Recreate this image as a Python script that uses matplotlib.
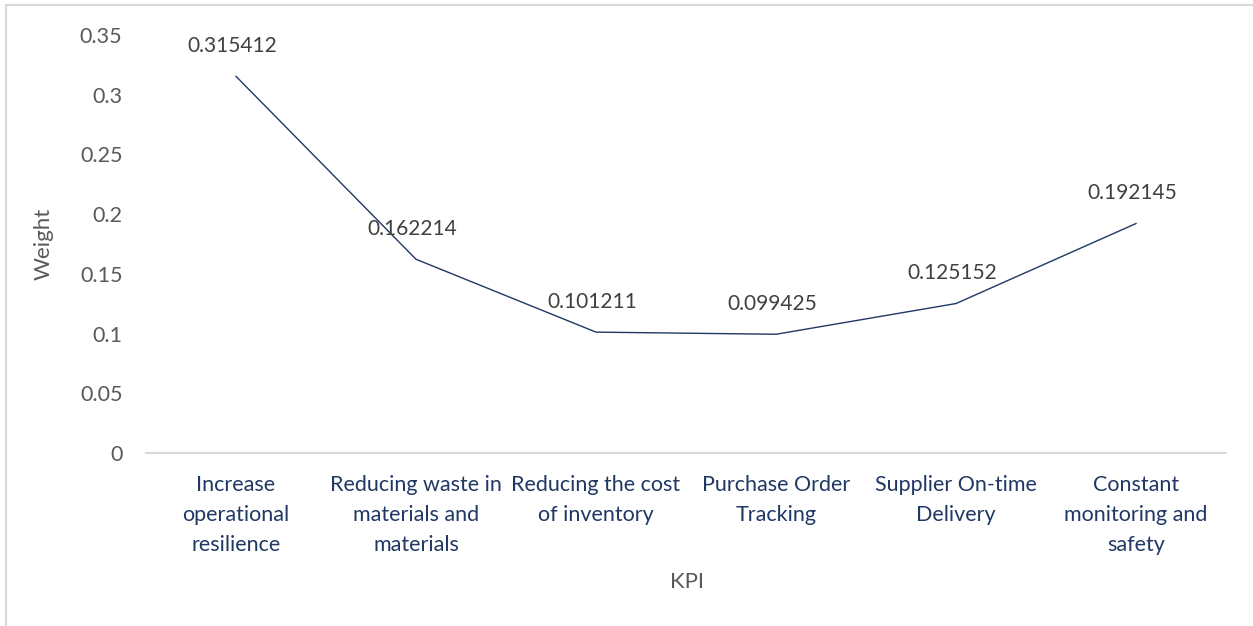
import matplotlib.pyplot as plt
from matplotlib.patches import Rectangle

# KPI weights
kpis = ["Increase\noperational\nresilience",
        "Reducing waste in\nmaterials and\nmaterials",
        "Reducing the cost\nof inventory",
        "Purchase Order\nTracking",
        "Supplier On-time\nDelivery",
        "Constant\nmonitoring and\nsafety"]
weights = [0.315412, 0.162214, 0.101211, 0.099425, 0.125152, 0.192145]
yticks = [0, 0.05, 0.1, 0.15, 0.2, 0.25, 0.3, 0.35]
ytick_labels = ["0", "0.05", "0.1", "0.15", "0.2", "0.25", "0.3", "0.35"]

plt.rcParams['font.family'] = ['Lato', 'DejaVu Sans']

fig = plt.figure(figsize=(12.53, 6.26), dpi=100)
ax = fig.add_axes([146/1253, 1 - 453/626, (1226 - 146)/1253, (453 - 35)/626])

# outer chart border (left and top visible)
fig.patches.append(Rectangle((6/1253, -0.1), 1.2, 1 - 5/626 + 0.1,
                             transform=fig.transFigure, fill=False,
                             edgecolor='#d9d9d9', linewidth=1.5))

x = list(range(len(kpis)))
ax.plot(x, weights, color='#203864', linewidth=1.0)

for xi, w in zip(x, weights):
    ax.annotate(str(w), (xi, w), xytext=(-3, 22), textcoords='offset points',
                ha='center', va='center', fontsize=15, color='#404040')

ax.set_xlim(-0.5, len(kpis) - 0.5)
ax.set_ylim(0, 0.35)
ax.set_yticks(yticks)
ax.set_yticklabels(ytick_labels, fontsize=15.5, color='#595959')
ax.set_xticks(x)
ax.set_xticklabels(kpis, fontsize=15.5, color='#1f3864', linespacing=1.62)
ax.tick_params(axis='both', length=0)
ax.tick_params(axis='y', pad=17)
ax.tick_params(axis='x', pad=16)

for s in ['top', 'right', 'left']:
    ax.spines[s].set_visible(False)
ax.spines['bottom'].set_color('#d9d9d9')
ax.spines['bottom'].set_linewidth(1.5)

ax.set_ylabel("Weight", fontsize=16, color='#595959', labelpad=19)
fig.text(687/1253, 1 - 582/626, "KPI", ha='center', va='center',
         fontsize=16, color='#595959')

fig.savefig("out.png", dpi=100)
